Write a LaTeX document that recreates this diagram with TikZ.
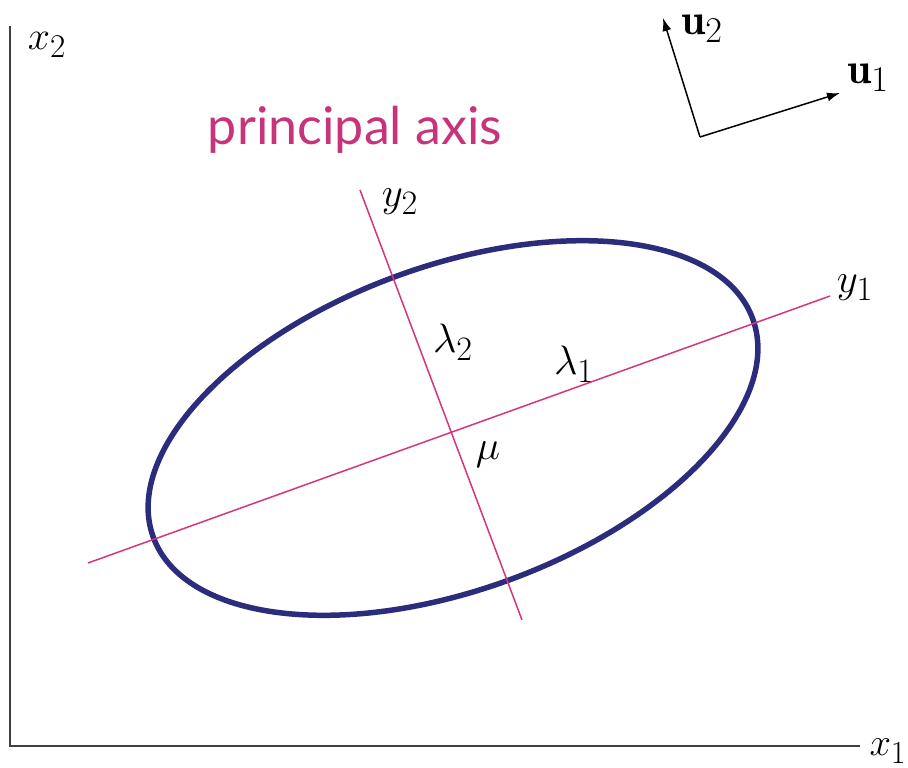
\documentclass[tikz,border=0pt]{standalone}
\usepackage{fontspec}
\newfontfamily\labelsans{Lato}
\usetikzlibrary{arrows.meta,shapes.geometric}
\definecolor{navy}{HTML}{2B2D7C}
\definecolor{mag}{HTML}{D4357F}
\definecolor{magtext}{HTML}{C8347A}
\newcommand\mylab[2]{\scalebox{#1}{\Huge$#2$}}
\tikzset{
  axisline/.style={line width=1.8pt, draw=black!75},
  paxis/.style={line width=1.5pt, draw=mag},
  vec/.style={line width=1.5pt, -{Latex[length=13pt,width=9pt]}},
  mlabel/.style={inner sep=0pt},
  ell/.style={draw=navy, line width=5.5pt, ellipse, rotate=20, minimum width=638pt, minimum height=324pt, inner sep=0pt},
}
\begin{document}
\begin{tikzpicture}[x=1pt,y=-1pt]
\useasboundingbox (0,0) rectangle (908,768);
% axes
\coordinate (otop) at (10,26);
\coordinate (orig) at (10,746);
\coordinate (oright) at (860,746);
\draw[axisline] (otop) -- (orig) -- (oright);
\node[mlabel] (x2) at (47,45) {\mylab{1.6}{x_2}};
\node[mlabel] (x1) at (888,751) {\mylab{1.55}{x_1}};
% ellipse
\node[ell] (E) at (453,428) {};
% principal axes
\coordinate (y1a) at (88,563);
\coordinate (y1b) at (830,296);
\coordinate (y2a) at (360,190);
\coordinate (y2b) at (522,620);
\draw[paxis] (y1a) -- (y1b);
\draw[paxis] (y2a) -- (y2b);
\node[mlabel] (ly1) at (855,288) {\mylab{1.65}{y_1}};
\node[mlabel] (ly2) at (400,202) {\mylab{1.65}{y_2}};
\node[mlabel] (l2) at (453,342) {\mylab{1.65}{\lambda_2}};
\node[mlabel] (l1) at (574,364) {\mylab{1.65}{\lambda_1}};
\node[mlabel] (mu) at (488,455) {\mylab{1.65}{\mu}};
% title
\node[inner sep=0pt, text=magtext, font=\labelsans\fontsize{52}{60}\selectfont] (title) at (355,130) {principal axis};
% basis vectors
\coordinate (uo) at (700,137);
\coordinate (u1t) at (840,93);
\coordinate (u2t) at (663,18);
\draw[vec] (uo) -- (u1t);
\draw[vec] (uo) -- (u2t);
\node[mlabel] (u1) at (868,78) {\mylab{1.75}{\mathbf{u}_1}};
\node[mlabel] (u2) at (702,29) {\mylab{1.75}{\mathbf{u}_2}};
\end{tikzpicture}
\end{document}
